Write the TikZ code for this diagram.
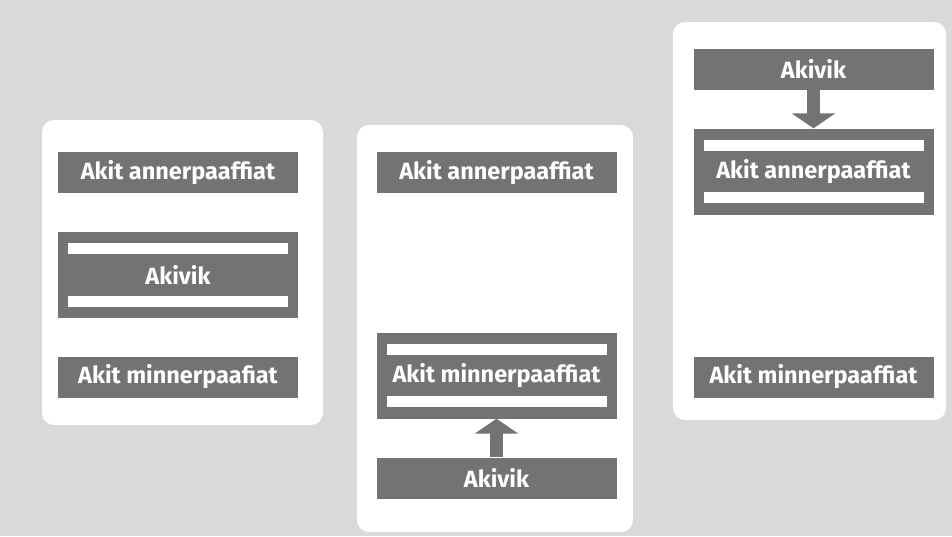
\documentclass[tikz,border=0pt]{standalone}
\usepackage{fontspec}
\setmainfont{Fira Sans}
\usepackage{tikz}
\usetikzlibrary{arrows.meta}

\begin{document}
\begin{tikzpicture}[x=1pt,y=-1pt,
    panel/.style={fill=white,rounded corners=12pt},
    bar/.style={fill=black!55,text=white,font=\bfseries\fontsize{23.5}{23.5}\selectfont,
      minimum width=240pt,minimum height=41pt,inner sep=0pt},
    frame/.style={bar,minimum height=86pt},
    gap/.style={fill=white},
    push/.style={draw=black!55,line width=13pt,-{Triangle[width=43pt,length=15pt]}}]
    \fill[black!15] (0,0) rectangle (952,536);
    \useasboundingbox (0,0) rectangle (952,536);
    \fill[panel] (42,120) rectangle (323,425);
    \fill[panel] (357,125) rectangle (633,532);
    \fill[panel] (673,22) rectangle (946,420);
    \node[bar] (anner1) at (178,172.5) {Akit annerpaaffiat};
    \node[frame] (akivik1) at (178,274.5) {Akivik};
    \fill[gap] (68,243) rectangle (288,254);
    \fill[gap] (68,296) rectangle (288,307);
    \node[bar] (minner1) at (178,377) {Akit minnerpaafiat};
    \begin{scope}[shift={(318.5,0)}]
      \node[bar] (anner2) at (178,172.5) {Akit annerpaaffiat};
      \node[frame] (minner2) at (178,375.5) {Akit minnerpaaffiat};
      \fill[gap] (68,344) rectangle (288,355);
      \fill[gap] (68,396) rectangle (288,407);
      \node[bar] (akivik2) at (178,478) {Akivik};
    \end{scope}
    \draw[push] (akivik2) -- (minner2);
    \begin{scope}[shift={(635.5,0)}]
      \node[bar] (akivik3) at (178,69) {Akivik};
      \node[frame] (anner3) at (178,171.5) {Akit annerpaaffiat};
      \fill[gap] (68,140) rectangle (288,151);
      \fill[gap] (68,192) rectangle (288,203);
      \node[bar] (minner3) at (178,377) {Akit minnerpaaffiat};
    \end{scope}
    \draw[push] (akivik3) -- (anner3);
  \end{tikzpicture}
\end{document}
